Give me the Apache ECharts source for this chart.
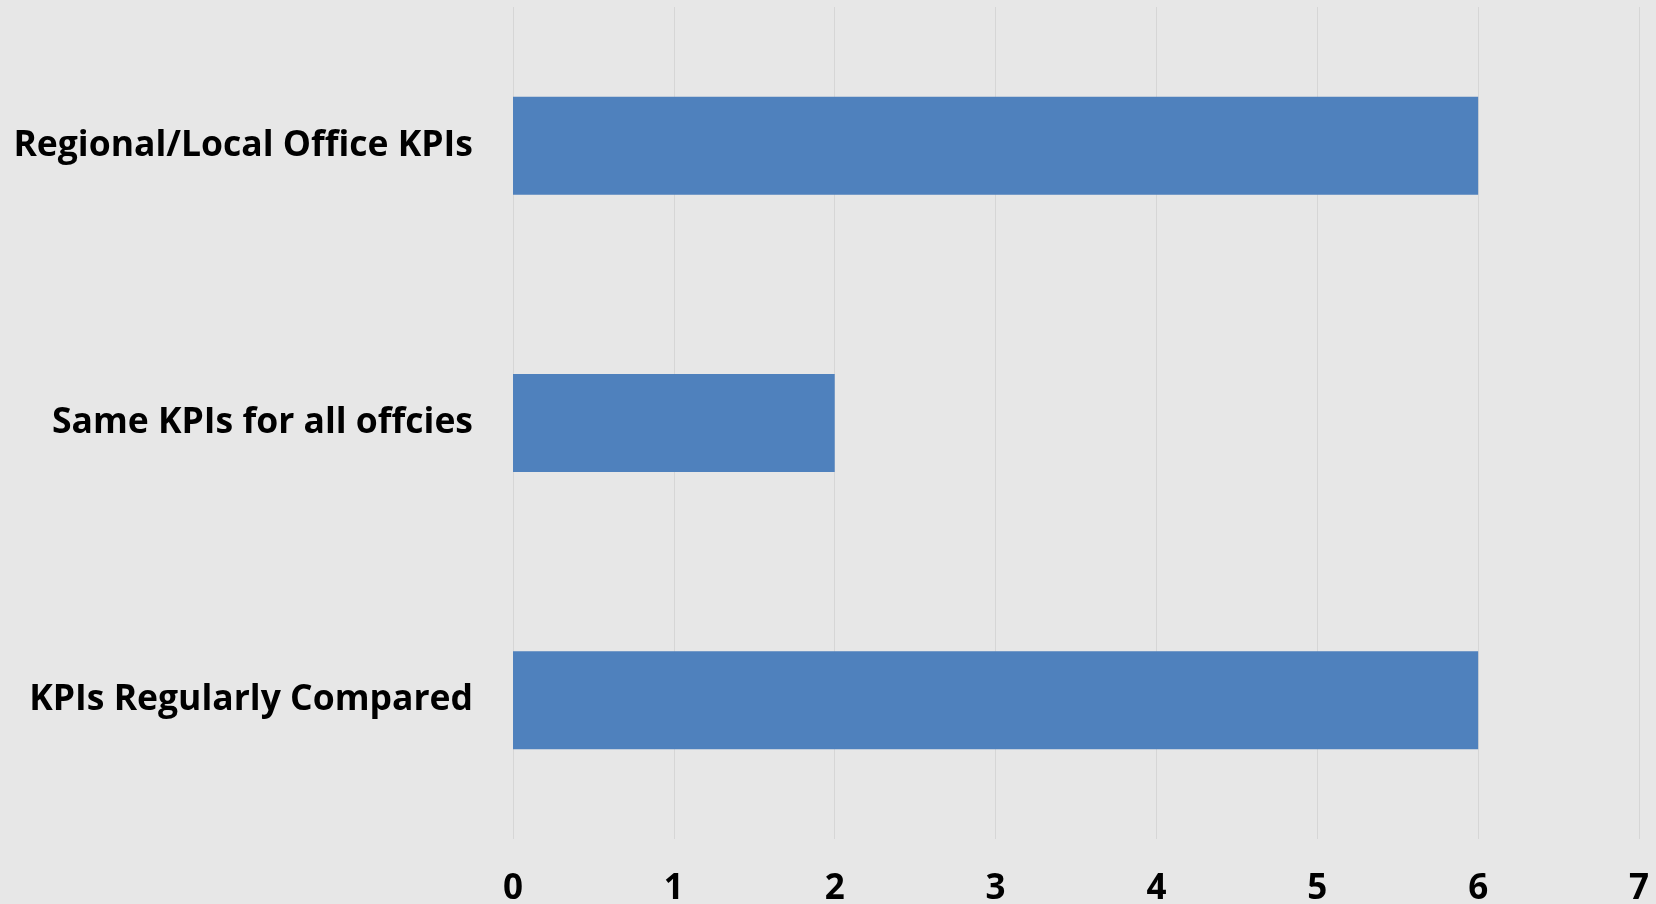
<!DOCTYPE html>
<html>
<head>
<meta charset="utf-8">
<script src="https://cdn.jsdelivr.net/npm/echarts@6/dist/echarts.min.js"></script>
<style>
  html, body { margin: 0; padding: 0; background: #e7e7e7; }
  #chart { width: 1656px; height: 904px; }
</style>
</head>
<body>
<div id="chart"></div>
<script>
// categories top to bottom as drawn
const categories = ['Regional/Local Office KPIs', 'Same KPIs for all offcies', 'KPIs Regularly Compared']
const counts = [6, 2, 6]
const xTicks = [0, 1, 2, 3, 4, 5, 6, 7]

const chart = echarts.init(document.getElementById('chart'))

const option = {
  backgroundColor: '#e7e7e7',
  animation: false,
  grid: {
    left: 513,
    right: 17,
    top: 7,
    bottom: 65,
    outerBoundsMode: 'none'
  },
  xAxis: {
    type: 'value',
    min: xTicks[0],
    max: xTicks[xTicks.length - 1],
    interval: 1,
    axisLine: { show: false },
    axisTick: { show: false },
    splitLine: { show: true, lineStyle: { color: '#d6d6d6', width: 1 } },
    axisLabel: {
      margin: 33,
      color: '#000',
      fontFamily: 'Open Sans',
      fontWeight: 'bold',
      fontSize: 35
    }
  },
  yAxis: {
    type: 'category',
    inverse: true,
    data: categories,
    axisLine: { show: false },
    axisTick: { show: false },
    axisLabel: {
      margin: 40,
      color: '#000',
      fontFamily: 'Open Sans',
      fontWeight: 'bold',
      fontSize: 35.5
    }
  },
  series: [
    {
      type: 'bar',
      data: counts,
      barWidth: 98,
      itemStyle: { color: '#4f81bd' }
    }
  ]
}

chart.setOption(option)
</script>
</body>
</html>
